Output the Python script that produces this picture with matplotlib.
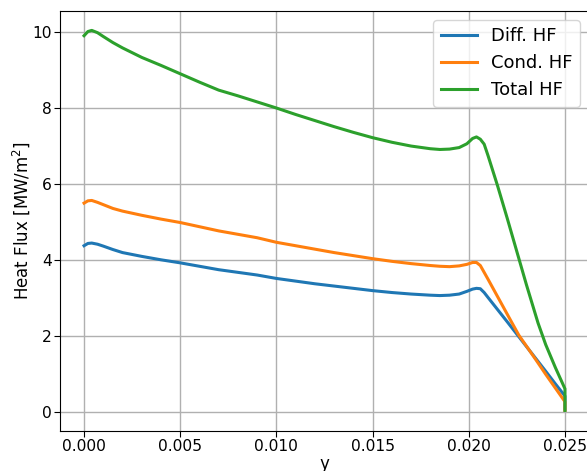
import matplotlib
matplotlib.use("Agg")
import matplotlib.pyplot as plt

y_pos = [0.0, 0.0002, 0.0004, 0.0007, 0.001, 0.0015, 0.002, 0.003, 0.004, 0.005,
         0.006, 0.007, 0.008, 0.009, 0.010, 0.011, 0.012, 0.013, 0.014, 0.015,
         0.016, 0.017, 0.018, 0.0185, 0.019, 0.0195, 0.0199, 0.0202, 0.0204, 0.0206,
         0.0208, 0.021, 0.0215, 0.022, 0.0226, 0.023, 0.0236, 0.024, 0.0245, 0.025, 0.025]

diff_hf = [4.38, 4.44, 4.45, 4.42, 4.37, 4.28, 4.20, 4.10, 4.01, 3.93,
           3.84, 3.75, 3.68, 3.61, 3.52, 3.45, 3.38, 3.32, 3.26, 3.20,
           3.15, 3.11, 3.08, 3.07, 3.08, 3.11, 3.18, 3.24, 3.26, 3.25,
           3.15, 3.02, 2.70, 2.38, 1.99, 1.73, 1.34, 1.08, 0.75, 0.43, 0.08]

cond_hf = [5.50, 5.56, 5.57, 5.52, 5.46, 5.36, 5.29, 5.18, 5.08, 4.99,
           4.88, 4.77, 4.68, 4.59, 4.47, 4.38, 4.29, 4.20, 4.12, 4.04,
           3.97, 3.91, 3.86, 3.84, 3.83, 3.85, 3.89, 3.94, 3.94, 3.86,
           3.68, 3.50, 3.04, 2.58, 2.03, 1.74, 1.30, 1.00, 0.64, 0.28, 0.05]

total_hf = [9.90, 10.01, 10.04, 9.98, 9.88, 9.72, 9.58, 9.33, 9.12, 8.90,
            8.68, 8.47, 8.32, 8.16, 8.00, 7.83, 7.67, 7.51, 7.36, 7.22,
            7.10, 7.00, 6.93, 6.91, 6.92, 6.96, 7.06, 7.20, 7.24, 7.18,
            7.05, 6.75, 5.95, 5.10, 4.05, 3.35, 2.35, 1.78, 1.18, 0.62, 0.05]

labels = ["Diff. HF", "Cond. HF", "Total HF"]
colors = ["#1f77b4", "#ff7f0e", "#2ca02c"]

fig = plt.figure(figsize=(5.87, 4.71), dpi=100)
ax = fig.add_axes([60 / 587, 40 / 471, 529 / 587, 420 / 471])

for vals, lab, c in zip([diff_hf, cond_hf, total_hf], labels, colors):
    ax.plot(y_pos, vals, color=c, lw=2.2, label=lab)

ax.set_xlim(-0.00125, 0.02625)
ax.set_ylim(-0.49, 10.55)
ax.set_xticks([0.0, 0.005, 0.010, 0.015, 0.020, 0.025])
ax.set_xticklabels(["0.000", "0.005", "0.010", "0.015", "0.020", "0.025"])
ax.set_yticks([0, 2, 4, 6, 8, 10])
ax.tick_params(labelsize=11.2, pad=1.5, length=4.3)
ax.grid(True, color="#b0b0b0", lw=1.0)
ax.set_xlabel("y", fontsize=12, labelpad=1)
ax.set_ylabel("Heat Flux [MW/m$^2$]", fontsize=12)
ax.yaxis.set_label_coords(-0.052, 0.5)
ax.legend(loc="upper right", fontsize=13)

fig.savefig("out.png", dpi=100)
